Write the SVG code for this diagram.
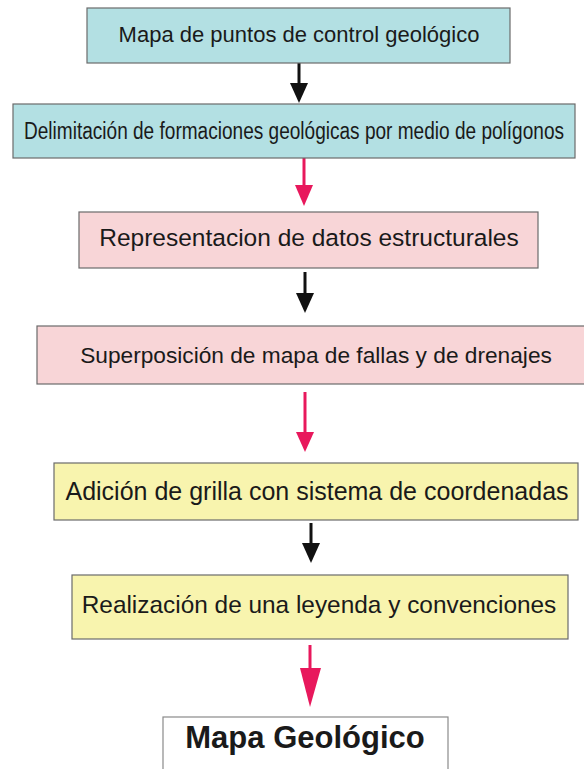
<svg xmlns="http://www.w3.org/2000/svg" width="584" height="769" viewBox="0 0 584 769">
<style>
.box{stroke:#6b6b6b;stroke-width:1.2}
.blue{fill:#b3e0e3}
.pink{fill:#f8d5d7}
.yellow{fill:#f8f4ae}
.white{fill:#ffffff;stroke:#8a8a8a}
text{font-family:"Liberation Sans",Arial,sans-serif;fill:#1a1a1a;text-anchor:middle}
.k{stroke:#111;stroke-width:3;fill:none}
.r{stroke:#e8185c;stroke-width:3;fill:none}
.kh{fill:#111}
.rh{fill:#e8185c}
</style>
<rect width="584" height="769" fill="#ffffff"/>
<g id="connectors">
<line class="k" x1="299" y1="63" x2="299" y2="85"/>
<polygon class="kh" points="290,83 308,83 299,103"/>
<line class="r" x1="304" y1="158" x2="304" y2="188"/>
<polygon class="rh" points="295,185 313,185 304,206"/>
<line class="k" x1="305" y1="272" x2="305" y2="295"/>
<polygon class="kh" points="296,293 314,293 305,313"/>
<line class="r" x1="305" y1="392" x2="305" y2="434"/>
<polygon class="rh" points="296,432 314,432 305,452"/>
<line class="k" x1="311" y1="523" x2="311" y2="545"/>
<polygon class="kh" points="302,543 320,543 311,563"/>
<line class="r" x1="310" y1="645" x2="310" y2="670"/>
<polygon class="rh" points="300,668 321,668 310,707"/>
</g>
<g id="n1">
<rect class="box blue" x="87" y="8" width="423" height="55"/>
<text x="299" y="42" font-size="22">Mapa de puntos de control geológico</text>
</g>
<g id="n2">
<rect class="box blue" x="13" y="104" width="562" height="54"/>
<text x="294" y="139" font-size="23" textLength="540" lengthAdjust="spacingAndGlyphs">Delimitación de formaciones geológicas por medio de polígonos</text>
</g>
<g id="n3">
<rect class="box pink" x="79" y="212" width="459" height="56"/>
<text x="309" y="246" font-size="24.5">Representacion de datos estructurales</text>
</g>
<g id="n4">
<rect class="box pink" x="37" y="326" width="552" height="58"/>
<text x="316" y="363" font-size="22.7">Superposición de mapa de fallas y de drenajes</text>
</g>
<g id="n5">
<rect class="box yellow" x="54" y="463" width="524" height="57"/>
<text x="317" y="500" font-size="25">Adición de grilla con sistema de coordenadas</text>
</g>
<g id="n6">
<rect class="box yellow" x="72" y="575" width="496" height="64"/>
<text x="319" y="613" font-size="24.4">Realización de una leyenda y convenciones</text>
</g>
<g id="n7">
<rect class="box white" x="163" y="717" width="285" height="60"/>
<text x="305" y="748" font-size="31" font-weight="bold">Mapa Geológico</text>
</g>
</svg>
